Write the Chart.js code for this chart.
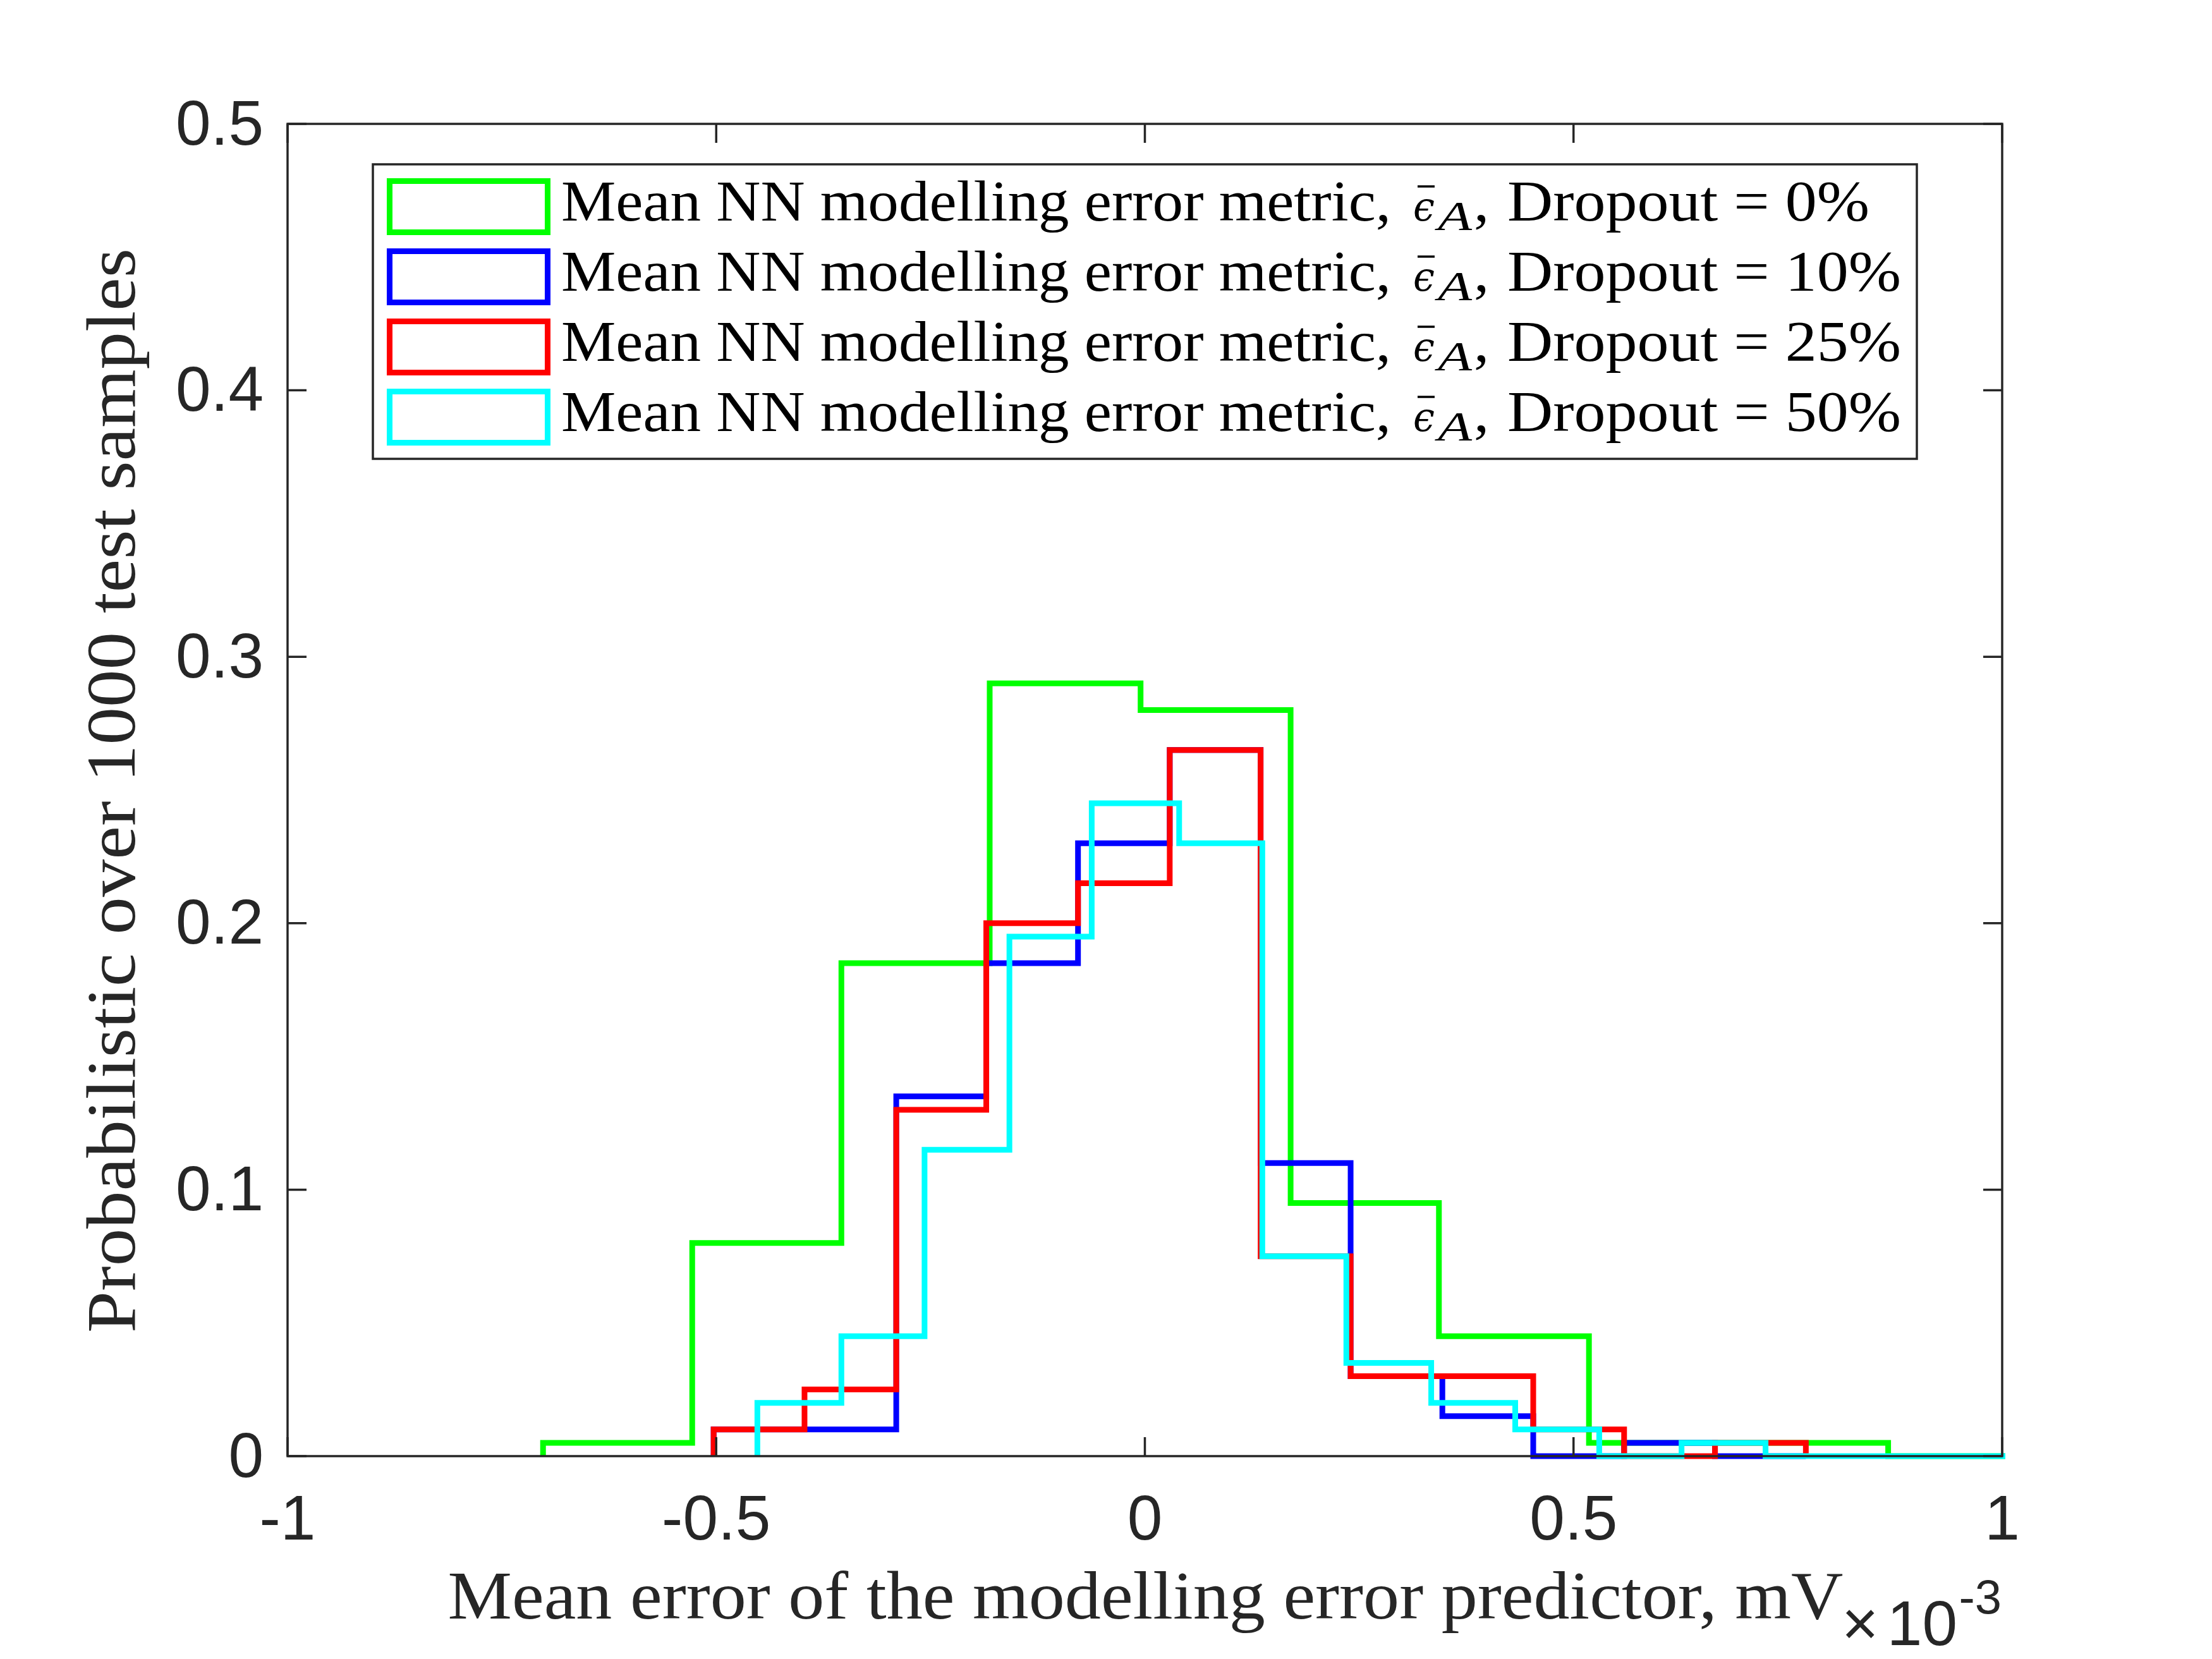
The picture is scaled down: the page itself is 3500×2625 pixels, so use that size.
<!DOCTYPE html>
<html>
<head>
<meta charset="utf-8">
<script src="https://cdn.jsdelivr.net/npm/chart.js@4.4.0/dist/chart.umd.min.js"></script>
<style>
html,body{margin:0;padding:0;background:#ffffff;}
canvas{display:block;}
</style>
</head>
<body>
<canvas id="c" width="3500" height="2625" style="width:3500px;height:2625px"></canvas>
<script>
// ---------------- data ----------------
const dropouts = ['0%', '10%', '25%', '50%'];
const seriesColors = ['#00ff00', '#0000ff', '#ff0000', '#00ffff'];

const greenEdges  = [-0.702, -0.528, -0.354, -0.181, -0.005, 0.170, 0.343, 0.518, 0.692, 0.867, 1.041];
const greenValues = [0.005, 0.080, 0.185, 0.290, 0.280, 0.095, 0.045, 0.005, 0.005, 0];

const blueEdges   = [-0.503, -0.397, -0.290, -0.185, -0.078, 0.029, 0.135, 0.240, 0.347, 0.453, 0.559, 0.665, 0.771];
const blueValues  = [0.010, 0.010, 0.135, 0.185, 0.230, 0.265, 0.110, 0.030, 0.015, 0, 0.005, 0];

const redEdges    = [-0.503, -0.397, -0.290, -0.185, -0.078, 0.029, 0.135, 0.240, 0.347, 0.453, 0.559, 0.665, 0.771];
const redValues   = [0.010, 0.025, 0.130, 0.200, 0.215, 0.265, 0.075, 0.030, 0.030, 0.010, 0, 0.005];

const cyanEdges   = [-0.452, -0.354, -0.257, -0.158, -0.062, 0.040, 0.137, 0.235, 0.334, 0.432, 0.530, 0.626, 0.724, 0.822, 0.920, 1.018];
const cyanValues  = [0.020, 0.045, 0.115, 0.195, 0.245, 0.230, 0.075, 0.035, 0.020, 0.010, 0, 0.005, 0, 0, 0];

const xTicks = [-1, -0.5, 0, 0.5, 1];
const xTickLabels = ['-1', '-0.5', '0', '0.5', '1'];
const yTicks = [0, 0.1, 0.2, 0.3, 0.4, 0.5];
const yTickLabels = ['0', '0.1', '0.2', '0.3', '0.4', '0.5'];

const xTitle = 'Mean error of the modelling error predictor, mV';
const yTitle = 'Probabilistic over 1000 test samples';
const legendPrefix = 'Mean NN modelling error metric,';
const legendSuffix = 'Dropout = ';

// ---------------- helpers ----------------
function stairPoints(edges, values) {
  const pts = [{x: edges[0], y: 0}];
  for (let i = 0; i < values.length; i++) pts.push({x: edges[i], y: values[i]});
  pts.push({x: edges[edges.length - 1], y: 0});
  return pts;
}

function makeDataset(edges, values, idx) {
  return {
    label: legendPrefix + ' \u03f5\u0304_A, ' + legendSuffix + dropouts[idx],
    data: stairPoints(edges, values),
    borderColor: seriesColors[idx],
    backgroundColor: seriesColors[idx],
    borderWidth: 9,
    pointRadius: 0,
    pointHoverRadius: 0,
    fill: false,
    stepped: 'before',
    tension: 0,
    borderJoinStyle: 'miter',
    borderCapStyle: 'butt',
    clip: {left: 5, top: 5, right: 5, bottom: 6},
    order: 4 - idx
  };
}

function fitText(ctx, text, x, y, font, targetW, color) {
  ctx.save();
  ctx.font = font;
  ctx.fillStyle = color;
  ctx.textAlign = 'left';
  ctx.textBaseline = 'alphabetic';
  const w = ctx.measureText(text).width;
  ctx.translate(x, y);
  ctx.scale(targetW / w, 1);
  ctx.fillText(text, 0, 0);
  ctx.restore();
}

const AXIS = '#262626';

const decorPlugin = {
  id: 'decor',
  beforeDraw(chart) {
    const ctx = chart.ctx;
    ctx.save();
    ctx.fillStyle = '#ffffff';
    ctx.fillRect(0, 0, chart.width, chart.height);
    ctx.restore();
  },
  afterDatasetsDraw(chart) {
    const ctx = chart.ctx;
    const a = chart.chartArea;
    const xs = chart.scales.x, ys = chart.scales.y;
    ctx.save();
    ctx.strokeStyle = AXIS;
    ctx.lineWidth = 3.5;
    ctx.lineCap = 'butt';
    const tl = 30;
    ctx.beginPath();
    xTicks.forEach(v => {
      const px = xs.getPixelForValue(v);
      ctx.moveTo(px, a.bottom); ctx.lineTo(px, a.bottom - tl);
      ctx.moveTo(px, a.top); ctx.lineTo(px, a.top + tl);
    });
    yTicks.forEach(v => {
      const py = ys.getPixelForValue(v);
      ctx.moveTo(a.left, py); ctx.lineTo(a.left + tl, py);
      ctx.moveTo(a.right, py); ctx.lineTo(a.right - tl, py);
    });
    ctx.stroke();
    ctx.strokeRect(a.left, a.top, a.right - a.left, a.bottom - a.top);
    ctx.restore();
  },
  afterDraw(chart) {
    const ctx = chart.ctx;
    const a = chart.chartArea;

    // ---- axis titles ----
    ctx.save();
    ctx.font = '110px "Liberation Serif"';
    ctx.fillStyle = AXIS;
    ctx.textAlign = 'center';
    ctx.textBaseline = 'alphabetic';
    let w = ctx.measureText(yTitle).width;
    ctx.translate(213, (a.top + a.bottom) / 2 + 1);
    ctx.rotate(-Math.PI / 2);
    ctx.scale(1716 / w, 1);
    ctx.fillText(yTitle, 0, 0);
    ctx.restore();

    ctx.save();
    ctx.font = '109px "Liberation Serif"';
    ctx.fillStyle = AXIS;
    ctx.textAlign = 'center';
    ctx.textBaseline = 'alphabetic';
    w = ctx.measureText(xTitle).width;
    ctx.translate((a.left + a.right) / 2 + 1, 2561);
    ctx.scale(2208 / w, 1);
    ctx.fillText(xTitle, 0, 0);
    ctx.restore();

    // ---- exponent ----
    ctx.save();
    ctx.fillStyle = AXIS;
    ctx.textBaseline = 'alphabetic';
    ctx.font = '100px "Liberation Sans"';
    ctx.textAlign = 'left';
    ctx.fillText('\u00d7', 2914, 2603);
    ctx.textAlign = 'right';
    ctx.fillText('10', 3097, 2603);
    ctx.font = '76px "Liberation Sans"';
    ctx.fillText('-3', 3167, 2553);
    ctx.restore();

    // ---- legend ----
    const lx0 = 590, ly0 = 260, lx1 = 3033, ly1 = 726;
    ctx.save();
    ctx.fillStyle = '#ffffff';
    ctx.fillRect(lx0, ly0, lx1 - lx0, ly1 - ly0);
    ctx.strokeStyle = AXIS;
    ctx.lineWidth = 3.5;
    ctx.strokeRect(lx0, ly0, lx1 - lx0, ly1 - ly0);

    const mainFont = '91px "Liberation Serif"';
    ctx.font = mainFont;
    const sx1 = 1313 / ctx.measureText(legendPrefix).width;
    const sx3 = 573 / ctx.measureText(legendSuffix + dropouts[0]).width;

    chart.data.datasets.forEach((ds, i) => {
      const b = 349 + 111 * i;
      // icon
      ctx.strokeStyle = ds.borderColor;
      ctx.lineWidth = 9;
      ctx.lineJoin = 'miter';
      ctx.strokeRect(616.5, b - 62.5, 250, 81);
      // prefix
      ctx.font = mainFont;
      const wp = ctx.measureText(legendPrefix).width;
      fitText(ctx, legendPrefix, 888, b, mainFont, wp * sx1, '#000000');
      // epsilon with bar
      fitText(ctx, '\u03f5', 2236, b, 'italic 64px "DejaVu Serif"', 34, '#000000');
      ctx.strokeStyle = '#000000';
      ctx.lineWidth = 3.5;
      ctx.beginPath();
      ctx.moveTo(2243, b - 54);
      ctx.lineTo(2270, b - 54);
      ctx.stroke();
      // subscript A
      fitText(ctx, 'A', 2275, b + 15, 'italic 66px "Liberation Serif"', 54, '#000000');
      // comma
      ctx.font = mainFont;
      const wc = ctx.measureText(',').width;
      fitText(ctx, ',', 2332, b, mainFont, wc * sx1, '#000000');
      // suffix
      const txt = legendSuffix + dropouts[i];
      ctx.font = mainFont;
      const ws = ctx.measureText(txt).width;
      fitText(ctx, txt, 2385, b, mainFont, ws * sx3, '#000000');
    });
    ctx.restore();
  }
};

const chart = new Chart(document.getElementById('c'), {
  type: 'line',
  data: {
    datasets: [
      makeDataset(greenEdges, greenValues, 0),
      makeDataset(blueEdges, blueValues, 1),
      makeDataset(redEdges, redValues, 2),
      makeDataset(cyanEdges, cyanValues, 3)
    ]
  },
  options: {
    responsive: false,
    maintainAspectRatio: false,
    devicePixelRatio: 1,
    animation: false,
    events: [],
    layout: {padding: {left: 0, top: 196, right: 332, bottom: 0}},
    plugins: {
      legend: {display: false},
      tooltip: {enabled: false},
      title: {display: false}
    },
    scales: {
      x: {
        type: 'linear',
        min: -1,
        max: 1,
        grid: {display: false, drawTicks: false},
        border: {display: false},
        afterBuildTicks: s => { s.ticks = xTicks.map(v => ({value: v})); },
        afterFit: s => { s.height = 321; },
        ticks: {
          autoSkip: false,
          maxRotation: 0,
          minRotation: 0,
          padding: 44,
          color: AXIS,
          font: {family: '"Liberation Sans", Arial, sans-serif', size: 100},
          callback: v => xTickLabels[xTicks.indexOf(v)]
        }
      },
      y: {
        type: 'linear',
        min: 0,
        max: 0.5,
        grid: {display: false, drawTicks: false},
        border: {display: false},
        afterBuildTicks: s => { s.ticks = yTicks.map(v => ({value: v})); },
        afterFit: s => { s.width = 455; },
        ticks: {
          autoSkip: false,
          padding: 38,
          labelOffset: 5,
          color: AXIS,
          font: {family: '"Liberation Sans", Arial, sans-serif', size: 100},
          callback: v => yTickLabels[yTicks.indexOf(v)]
        }
      }
    }
  },
  plugins: [decorPlugin]
});
</script>
</body>
</html>
